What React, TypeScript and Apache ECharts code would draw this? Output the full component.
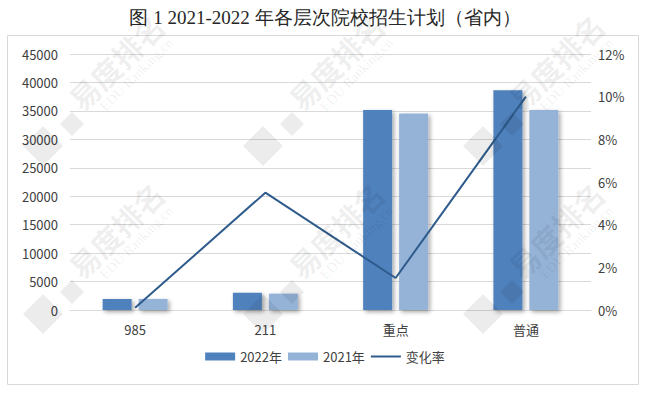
import React, { useEffect, useRef } from "react";
import * as echarts from "echarts";

const categories = ["985", "211", "重点", "普通"];
const plan2022 = [1950, 3040, 35140, 38640];
const plan2021 = [1945, 2880, 34550, 35140];
const changeRate = [0.001, 0.055, 0.015, 0.1];
const titleText = "图 1 2021-2022 年各层次院校招生计划（省内）";
const watermarkCols = [116, 336, 556];
const watermarkRows = [62, 230];

const wmColor = "rgba(0,0,0,0.075)";
const rot = Math.PI / 4;
const cosR = Math.cos(rot);
const sinR = Math.sin(rot);
const place = (cx: number, cy: number, lx: number, ly: number) => [
  cx + lx * cosR + ly * sinR,
  cy - lx * sinR + ly * cosR,
];

export default function App() {
  const ref = useRef<HTMLDivElement>(null);
  useEffect(() => {
    if (!ref.current) return;
    const chart = echarts.init(ref.current, null, { renderer: "svg" });
    const labelFont = "'Noto Sans CJK SC', 'Noto Sans', sans-serif";
    const shadow = {
      shadowColor: "rgba(0,0,0,0.35)",
      shadowBlur: 4,
      shadowOffsetX: 2,
      shadowOffsetY: 2,
    };
    const diamond = (x: number, y: number, r: number) => [
      [x, y - r],
      [x + r, y],
      [x, y + r],
      [x - r, y],
    ];
    const logos: any[] = [];
    watermarkRows.forEach((cy) => {
      watermarkCols.forEach((cx) => {
        logos.push(
          {
            type: "polygon",
            silent: true,
            z: 100,
            shape: { points: diamond(cx - 73, cy + 84, 20) },
            style: { fill: wmColor },
          },
          {
            type: "polygon",
            silent: true,
            z: 100,
            shape: { points: diamond(cx - 44, cy + 62, 12) },
            style: { fill: wmColor },
          }
        );
      });
    });
    chart.setOption({
      animation: false,
      backgroundColor: "#ffffff",
      title: {
        text: titleText,
        left: "center",
        top: 3,
        textStyle: {
          fontFamily: "Liberation Serif",
          fontSize: 19,
          fontWeight: "normal",
          color: "#262626",
        },
      },
      graphic: [
        {
          type: "rect",
          shape: { x: 7.5, y: 35.5, width: 631, height: 349 },
          style: { fill: "none", stroke: "#d9d9d9", lineWidth: 1 },
          silent: true,
          z: -1,
        },
        ...logos,
      ],
      legend: {
        bottom: 27,
        left: "center",
        itemWidth: 30,
        itemHeight: 8,
        itemGap: 6,
        textStyle: { fontFamily: labelFont, fontSize: 13, color: "#404040" },
        data: [
          { name: "2022年", icon: "rect" },
          { name: "2021年", icon: "rect" },
          { name: "变化率", icon: "path://M0,0 L30,0 L30,2 L0,2 Z" },
        ],
      },
      grid: { left: 70, right: 59, top: 54, bottom: 85 },
      xAxis: {
        type: "category",
        data: categories,
        axisLine: { lineStyle: { color: "#d9d9d9" } },
        axisTick: { show: false },
        axisLabel: { margin: 13, fontFamily: labelFont, fontSize: 13, color: "#404040" },
      },
      yAxis: [
        {
          type: "value",
          min: 0,
          max: 45000,
          interval: 5000,
          axisLine: { show: false },
          axisTick: { show: false },
          splitLine: { lineStyle: { color: "#d9d9d9" } },
          axisLabel: {
            margin: 12,
            fontFamily: labelFont,
            fontSize: 13,
            color: "#404040",
            formatter: (v: number) => String(v),
          },
        },
        {
          type: "value",
          min: 0,
          max: 0.12,
          interval: 0.02,
          axisLine: { show: false },
          axisTick: { show: false },
          splitLine: { show: false },
          axisLabel: {
            margin: 7,
            fontFamily: labelFont,
            fontSize: 13,
            color: "#404040",
            formatter: (v: number) => Math.round(v * 100) + "%",
          },
        },
      ],
      series: [
        {
          name: "2022年",
          type: "bar",
          data: plan2022,
          barWidth: 29,
          barGap: "24%",
          itemStyle: { color: "#4f81bd", ...shadow },
        },
        {
          name: "2021年",
          type: "bar",
          data: plan2021,
          barWidth: 29,
          itemStyle: { color: "#95b3d7", ...shadow },
        },
        {
          name: "变化率",
          type: "line",
          yAxisIndex: 1,
          data: changeRate,
          symbol: "none",
          lineStyle: { color: "#2e5b8c", width: 2 },
          itemStyle: { color: "#2e5b8c" },
        },
      ],
    });
    return () => chart.dispose();
  }, []);

  const marks: React.ReactNode[] = [];
  watermarkRows.forEach((cy, ri) => {
    watermarkCols.forEach((cx, ci) => {
      const [tx, ty] = place(cx, cy, 0, 0);
      const [ex, ey] = place(cx, cy, 6, 24);
      marks.push(
        <div
          key={`t${ri}-${ci}`}
          style={{
            position: "absolute",
            left: tx,
            top: ty,
            transform: "translate(-50%, -50%) rotate(-45deg)",
            whiteSpace: "nowrap",
            font: "bold 30px 'Noto Sans CJK SC', sans-serif",
            lineHeight: "30px",
            color: wmColor,
          }}
        >
          易度排名
        </div>,
        <div
          key={`e${ri}-${ci}`}
          style={{
            position: "absolute",
            left: ex,
            top: ey,
            transform: "translate(-50%, -50%) rotate(-45deg)",
            whiteSpace: "nowrap",
            font: "14px 'Liberation Serif', serif",
            lineHeight: "14px",
            color: wmColor,
          }}
        >
          EDU Ranking.cn
        </div>
      );
    });
  });

  return (
    <div style={{ position: "fixed", left: 0, top: 0, width: 650, height: 395, overflow: "hidden" }}>
      <div ref={ref} style={{ position: "absolute", left: 0, top: 0, width: 650, height: 395 }} />
      <div style={{ position: "absolute", left: 0, top: 0, width: 650, height: 395, pointerEvents: "none" }}>
        {marks}
      </div>
    </div>
  );
}
